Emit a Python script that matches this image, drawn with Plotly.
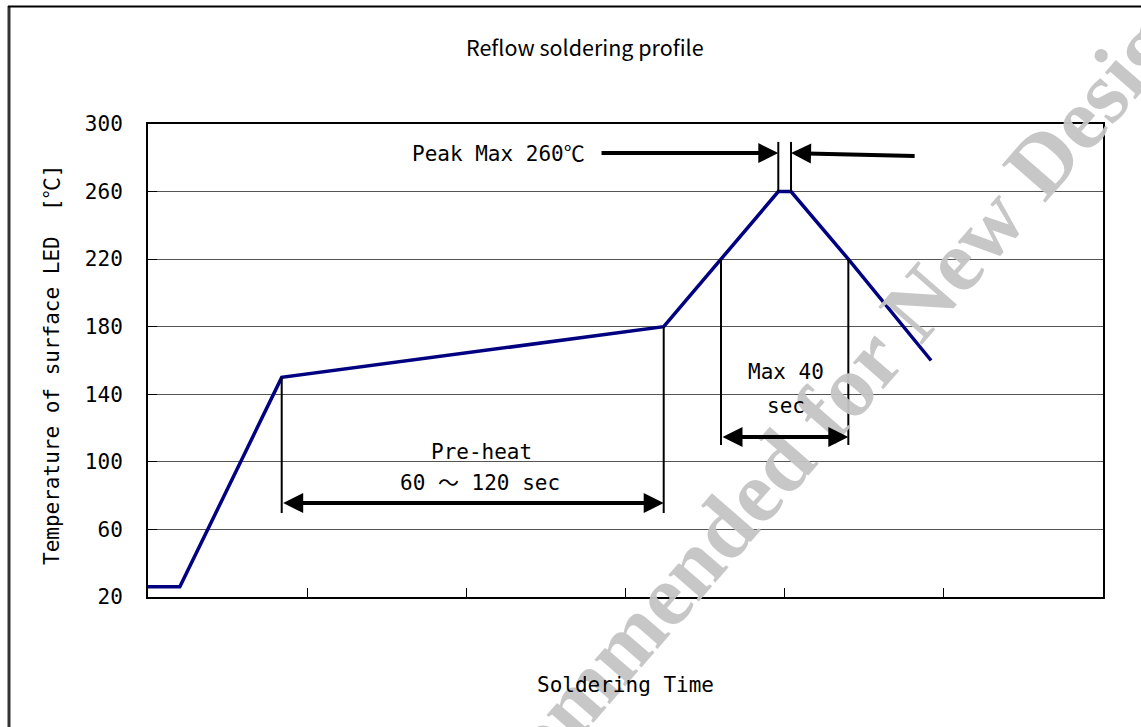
import plotly.graph_objects as go

# ---- data ----
time_s = [0, 10, 42, 162, 180, 198, 202, 220, 246]
temp_c = [26, 26, 150, 180, 220, 260, 260, 220, 160]
y_ticks = [20, 60, 100, 140, 180, 220, 260, 300]
x_ticks = [0, 50, 100, 150, 200, 250, 300]

title_text = "Reflow soldering profile"
x_title = "Soldering Time"
y_title = "Temperature of surface LED  [℃]"
peak_label = "Peak Max 260℃"
preheat_label1 = "Pre-heat"
preheat_label2 = "60 ～ 120 sec"
reflow_label1 = "Max 40"
reflow_label2 = "sec"
watermark = "Not Recommended for New Designs"

FONT = "DejaVu Sans Mono, Noto Sans CJK JP, monospace"
TITLE_FONT = "Noto Sans CJK JP, Noto Sans, sans-serif"
L, R, T, B = 148, 38, 124, 130
W, H = 1141, 727
PW, PH = W - L - R, H - T - B

def px(xpix):
    return (xpix - L) / PW

def py(ypix):
    return (H - B - ypix) / PH

fig = go.Figure()
fig.add_trace(go.Scatter(x=time_s, y=temp_c, mode="lines",
                         line=dict(color="#000080", width=3.5),
                         hoverinfo="skip", showlegend=False))

shapes = []
ann = []

# outer frame
shapes.append(dict(type="line", xref="paper", yref="paper", x0=px(9), x1=px(9), y0=py(6), y1=py(760),
                   line=dict(color="#333333", width=3)))
shapes.append(dict(type="line", xref="paper", yref="paper", x0=px(8), x1=px(1160), y0=py(6.5), y1=py(6.5),
                   line=dict(color="#000000", width=2)))

# pre-heat markers
pre_start, pre_end = time_s[2], time_s[3]
shapes.append(dict(type="line", x0=pre_start, x1=pre_start, y0=temp_c[2], y1=69.7, line=dict(color="black", width=2)))
shapes.append(dict(type="line", x0=pre_end, x1=pre_end, y0=temp_c[3], y1=69.7, line=dict(color="black", width=2)))
# reflow markers
rf_start, rf_end = time_s[4], time_s[7]
shapes.append(dict(type="line", x0=rf_start, x1=rf_start, y0=temp_c[4], y1=110, line=dict(color="black", width=2)))
shapes.append(dict(type="line", x0=rf_end, x1=rf_end, y0=temp_c[7], y1=110, line=dict(color="black", width=2)))
# peak markers
pk_start, pk_end = time_s[5], time_s[6]
shapes.append(dict(type="line", x0=pk_start, x1=pk_start, y0=temp_c[5], y1=289.4, line=dict(color="black", width=2)))
shapes.append(dict(type="line", x0=pk_end, x1=pk_end, y0=temp_c[6], y1=289.4, line=dict(color="black", width=2)))

# watermark (drawn first, under text)
ann.append(dict(xref="paper", yref="paper", x=px(769), y=py(475), xanchor="center", yanchor="middle",
                text="<b>" + watermark + "</b>", showarrow=False, textangle=-49,
                font=dict(family="Liberation Serif, serif", size=88, color="rgba(196,196,196,0.95)")))

arrow_common = dict(xref="x", yref="y", axref="x", ayref="y", text="", showarrow=True,
                    arrowhead=2, arrowsize=1, arrowwidth=4, arrowcolor="black", standoff=0)
# pre-heat double arrow
ann.append(dict(arrow_common, x=pre_end, y=75.6, ax=pre_start, ay=75.6,
                arrowside="end+start", startarrowhead=2, startarrowsize=1, startstandoff=0))
# reflow double arrow
ann.append(dict(arrow_common, x=rf_end, y=114.7, ax=rf_start, ay=114.7,
                arrowside="end+start", startarrowhead=2, startarrowsize=1, startstandoff=0))
# peak arrows
ann.append(dict(arrow_common, x=pk_start, y=282.8, ax=142.0, ay=282.8))
ann.append(dict(arrow_common, x=pk_end, y=282.8, ax=241.3, ay=281.1))

tf = dict(family=FONT, size=21, color="black")
ann.append(dict(x=110.0, y=282.2, text=peak_label, showarrow=False, font=tf))
ann.append(dict(x=104.9, y=105.8, text=preheat_label1, showarrow=False, font=tf))
ann.append(dict(x=104.3, y=87.5, text=preheat_label2, showarrow=False, font=tf))
ann.append(dict(x=200.4, y=153.2, text=reflow_label1, showarrow=False, font=tf))
ann.append(dict(x=200.4, y=133.1, text=reflow_label2, showarrow=False, font=tf))

# titles
ann.append(dict(xref="paper", yref="paper", x=px(585), y=py(47), xanchor="center", yanchor="middle",
                text=title_text, showarrow=False,
                font=dict(family=TITLE_FONT, size=21.5, color="black")))
ann.append(dict(xref="paper", yref="paper", x=px(625), y=py(685), xanchor="center", yanchor="middle",
                text=x_title, showarrow=False, font=tf))
ann.append(dict(xref="paper", yref="paper", x=px(52), y=py(365), xanchor="center", yanchor="middle",
                text=y_title, showarrow=False, textangle=-90, font=tf))

fig.update_layout(
    width=W, height=H,
    margin=dict(l=L, r=R, t=T, b=B),
    paper_bgcolor="white", plot_bgcolor="white",
    showlegend=False,
    shapes=shapes, annotations=ann,
    xaxis=dict(range=[x_ticks[0], x_ticks[-1]], tickvals=x_ticks, showticklabels=False,
               ticks="inside", ticklen=9, tickcolor="black", tickwidth=1,
               showgrid=False, zeroline=False, showline=True, linecolor="black", linewidth=2, mirror=True),
    yaxis=dict(range=[y_ticks[0], y_ticks[-1]], tickvals=y_ticks,
               ticks="inside", ticklen=9, tickcolor="black", tickwidth=1,
               tickfont=dict(family=FONT, size=21, color="black"), ticklabelstandoff=19,
               showgrid=True, gridcolor="#555555", gridwidth=1,
               zeroline=False, showline=True, linecolor="black", linewidth=2, mirror=True),
)

fig.write_html("out.html", config={"displayModeBar": False},
               post_script="document.body.style.margin='0';document.body.style.overflow='hidden';")
